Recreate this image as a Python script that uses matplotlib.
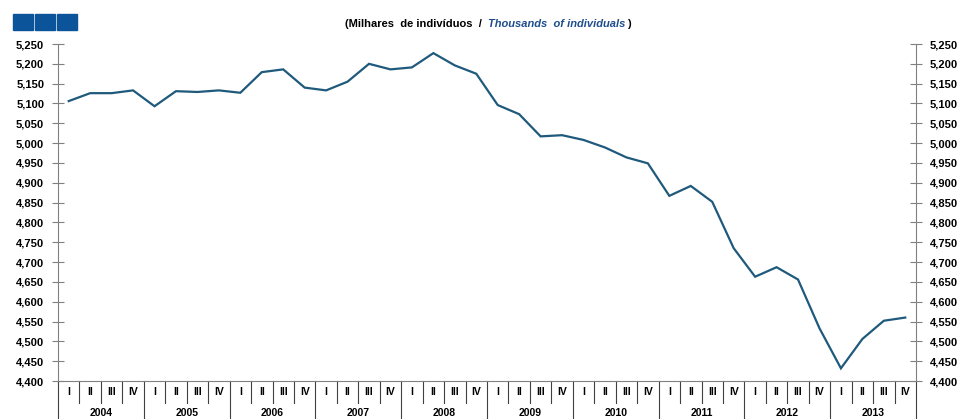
import matplotlib
matplotlib.use("Agg")
import matplotlib.pyplot as plt
import matplotlib.transforms as mtransforms
from matplotlib.patches import Rectangle
import numpy as np

plt.rcParams['font.family'] = ['Liberation Sans', 'DejaVu Sans']

years = ["2004", "2005", "2006", "2007", "2008", "2009", "2010", "2011", "2012", "2013"]
quarters = ["I", "II", "III", "IV"]
values = [5106, 5126, 5126, 5133,
          5093, 5131, 5129, 5133,
          5127, 5179, 5186, 5140,
          5133, 5155, 5200, 5186,
          5191, 5227, 5196, 5175,
          5096, 5073, 5017, 5020,
          5008, 4989, 4964, 4949,
          4867, 4892, 4852, 4735,
          4663, 4687, 4656, 4533,
          4432, 4506, 4552, 4560]

line_col = '#1f5a7c'
axis_col = '#808080'

fig = plt.figure(figsize=(9.62, 4.19), dpi=100)
ax = fig.add_axes([58/962, 1-381/419, (916-58)/962, (381-44)/419])

n = len(values)
x = np.arange(n)
ax.plot(x, values, color=line_col, lw=1.6, solid_joinstyle='miter')

ax.set_xlim(-0.5, n-0.5)
ax.set_ylim(4400, 5250)
yt = np.arange(4400, 5251, 50)
ax.set_yticks(yt)
ax.set_yticklabels([f"{v:,}" for v in yt], fontsize=8, fontweight='bold')
ax.tick_params(axis='y', direction='inout', length=8, color=axis_col, pad=6)

ax.spines['top'].set_visible(False)
ax.spines['right'].set_visible(False)
ax.spines['left'].set_color(axis_col)
ax.spines['bottom'].set_color(axis_col)
ax.set_xticks([])

ax2 = ax.twinx()
ax2.set_ylim(4400, 5250)
ax2.set_yticks(yt)
ax2.set_yticklabels([f"{v:,}" for v in yt], fontsize=8, fontweight='bold')
ax2.tick_params(axis='y', direction='inout', length=8, color=axis_col, pad=6)
for s in ['top', 'left', 'bottom']:
    ax2.spines[s].set_visible(False)
ax2.spines['right'].set_color(axis_col)

# category axis: quarters and years
trans = mtransforms.blended_transform_factory(ax.transData, ax.transAxes)
ph = 337  # axes height in px
q_low = -22 / ph
y_low = -40 / ph
for i in range(n + 1):
    bottom = y_low if i % 4 == 0 else q_low
    ax.plot([i - 0.5, i - 0.5], [0, bottom], transform=trans, color='#404040',
            lw=0.8, clip_on=False)
for i in range(n):
    ax.text(i, -11 / ph, quarters[i % 4], transform=trans, ha='center', va='center',
            fontsize=7.5, fontweight='bold')
for j, yr in enumerate(years):
    ax.text(4 * j + 1.5, -32 / ph, yr, transform=trans, ha='center', va='center',
            fontsize=7.5, fontweight='bold')

# header, pieces chained one after another
fig.canvas.draw()
r = fig.canvas.get_renderer()
hy = 1 - 24/419
t1 = fig.text(345/962, hy, "(Milhares  de indivíduos  /  ", ha='left', va='center',
              fontsize=8, fontweight='bold')
x1 = t1.get_window_extent(r).x1
t2 = fig.text(x1/962, hy, "Thousands  of individuals", ha='left', va='center',
              fontsize=8, fontweight='bold', style='italic', color='#1f4e8c')
x2 = t2.get_window_extent(r).x1
fig.text((x2 + 2)/962, hy, ")", ha='left', va='center', fontsize=8, fontweight='bold')

for k in range(3):
    fig.patches.append(Rectangle(((13 + 22*k)/962, 1 - 30/419), 20/962, 16/419,
                                 transform=fig.transFigure, color='#0b5499', zorder=5))

fig.savefig("out.png", dpi=100)
